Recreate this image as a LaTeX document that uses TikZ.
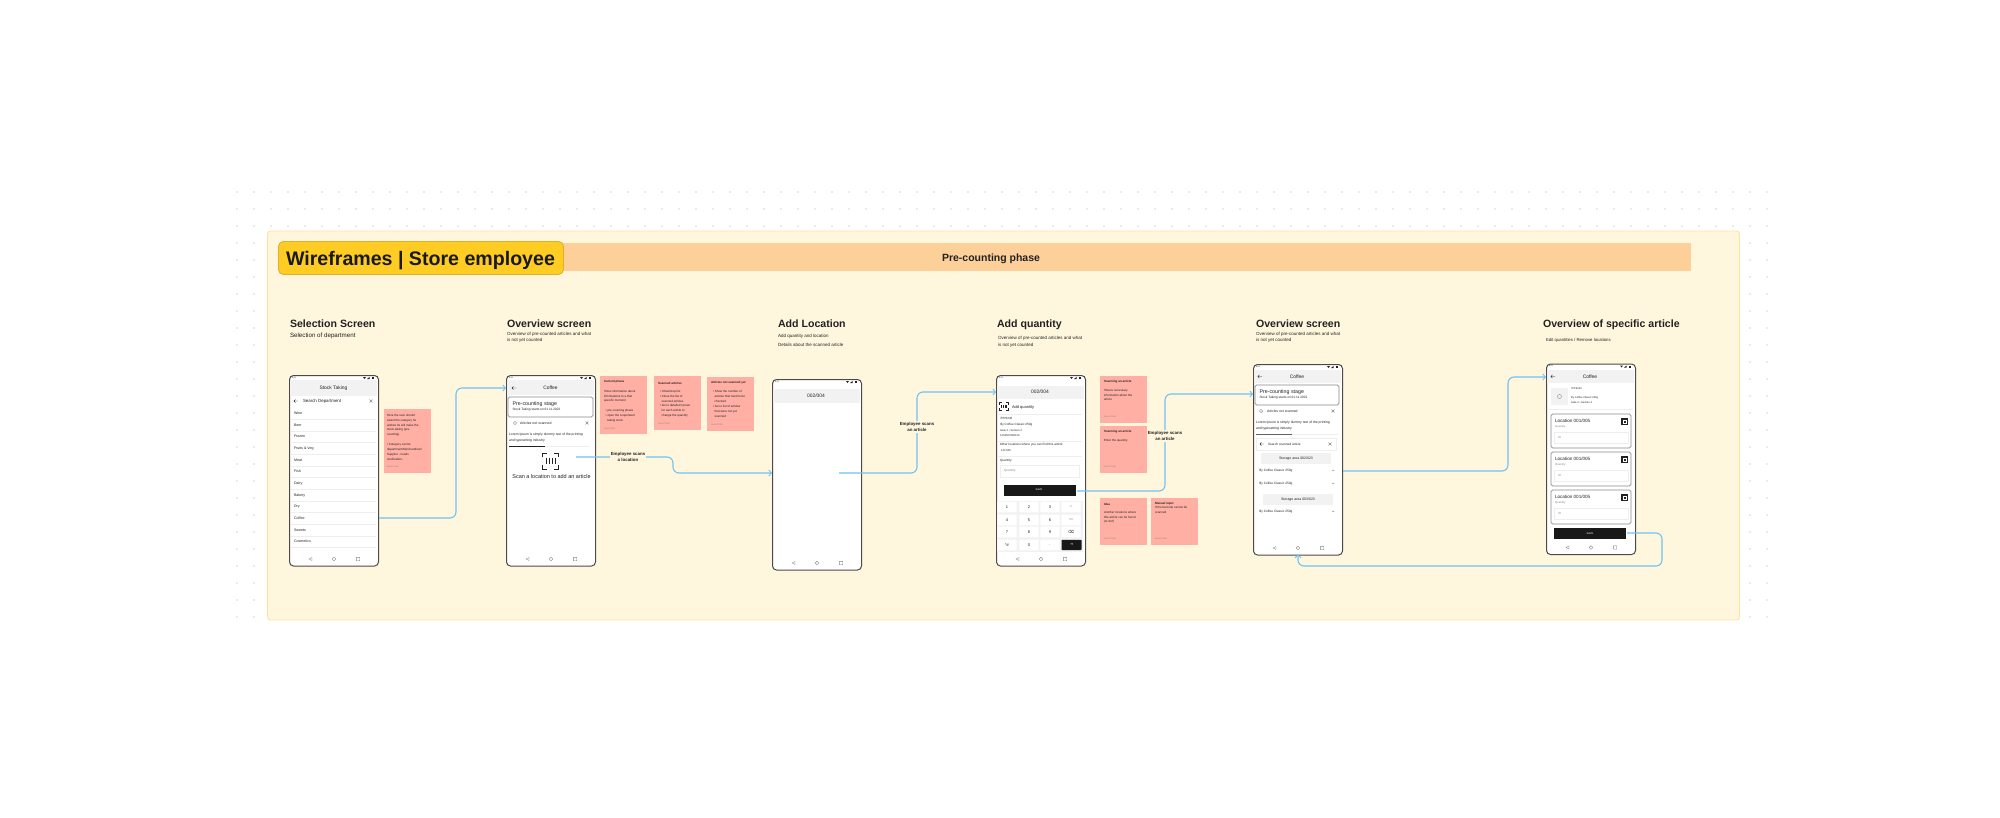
\documentclass[tikz,border=0pt]{standalone}
\usepackage{fontspec}
\setmainfont{Liberation Sans}
\newfontfamily\symfont{DejaVu Sans}
\usetikzlibrary{arrows.meta}
\definecolor{panelc}{HTML}{FFF6DE}
\definecolor{panelb}{HTML}{FFE39A}
\definecolor{bandc}{HTML}{FDD09A}
\definecolor{titlec}{HTML}{FFCC24}
\definecolor{titleb}{HTML}{DDB030}
\definecolor{stickyc}{HTML}{FFAFA3}
\definecolor{flowc}{HTML}{6FC3F2}
\definecolor{inkc}{HTML}{222222}
\definecolor{framec}{HTML}{4A4A4A}
\definecolor{barc}{HTML}{F2F2F2}
\definecolor{linec}{HTML}{EEEEEE}
\definecolor{softc}{HTML}{8A8A8A}
\newcounter{tn}
\tikzset{
  tx/.style={anchor=west,inner sep=0pt,outer sep=0pt,text=inkc},
  headtx/.style={anchor=base west,font=\bfseries},
  stickybox/.style={anchor=north west,fill=stickyc,draw=none,inner sep=0pt},
  phonebox/.style={anchor=north west,fill=white,draw=framec,line width=1pt,rounded corners=4pt,minimum width=89pt,minimum height=190.5pt,inner sep=0pt},
  flow/.style={draw=flowc,line width=1.1pt,rounded corners=6pt,-{Straight Barb[length=2.6pt,width=6pt,line width=.9pt]}},
  flowlabel/.style={fill=panelc,inner sep=1pt,align=center,text=inkc,font=\fontsize{4.4}{6}\selectfont\bfseries},
  navstroke/.style={draw=softc,line width=.4pt},
  divider/.style={draw=linec,line width=.3pt},
  cardbox/.style={draw=softc,line width=.7pt,rounded corners=1.6pt,fill=white},
  inputbox/.style={draw=linec,line width=.5pt,fill=white},
}
\newcommand\TT[4][]{\stepcounter{tn}\node[tx,#1] (t\arabic{tn}) at (#2) {\fontsize{#3}{#3}\selectfont #4};}
\newcommand\SL[3]{\stepcounter{tn}\node[tx,anchor=north west,align=left,font=\fontsize{#2}{4.85}\selectfont] (t\arabic{tn}) at (#1) {#3};}
\newcommand\sticky[5]{\node[stickybox,minimum width=#4 pt,minimum height=#5 pt] (#1) at (#2,#3) {};}
\newcommand\phone[3]{%
  \node[phonebox] (#1) at (#2,#3) {};
  \begin{scope}[shift={(#2,#3)}]
    \TT{3,2.8}{2}{9:41}
    \fill[inkc] (74,2) -- (77,2) -- (75.5,4) -- cycle;
    \fill[inkc] (78,4) -- (80.5,4) -- (80.5,2) -- cycle;
    \fill[inkc] (82.5,2) rectangle (84.5,4);
    \draw[navstroke] (23,182.5) -- (20,184) -- (23,185.5) -- cycle;
    \draw[navstroke] (45,184) circle (1.8pt);
    \draw[navstroke,rounded corners=.4pt] (67.3,182.3) rectangle (70.7,185.7);
  \end{scope}}
\newcommand\headerbar[3]{\fill[barc] (#1+.6,#2) rectangle (#1+88.4,#2+#3);}
\newcommand\backarrow[2]{%
  \draw[inkc,line width=.4pt] (#1-2.2,#2) -- (#1+2.2,#2) (#1-.6,#2-1.6) -- (#1-2.2,#2) -- (#1-.6,#2+1.6);}
\newcommand\closex[2]{%
  \draw[softc,line width=.4pt] (#1-1.4,#2-1.4) -- (#1+1.4,#2+1.4) (#1-1.4,#2+1.4) -- (#1+1.4,#2-1.4);}
\newcommand\scanicon[3]{%
  \draw[inkc,line width=.75pt]
    (#1-#3,#2-#3*.45) -- (#1-#3,#2-#3) -- (#1-#3*.45,#2-#3)
    (#1+#3*.45,#2-#3) -- (#1+#3,#2-#3) -- (#1+#3,#2-#3*.45)
    (#1-#3,#2+#3*.45) -- (#1-#3,#2+#3) -- (#1-#3*.45,#2+#3)
    (#1+#3*.45,#2+#3) -- (#1+#3,#2+#3) -- (#1+#3,#2+#3*.45);
  \draw[inkc,line width=.6pt]
    (#1-#3*.55,#2-#3*.4) -- (#1-#3*.55,#2+#3*.4)
    (#1-#3*.2,#2-#3*.4) -- (#1-#3*.2,#2+#3*.4)
    (#1+#3*.2,#2-#3*.4) -- (#1+#3*.2,#2+#3*.4)
    (#1+#3*.55,#2-#3*.4) -- (#1+#3*.55,#2+#3*.4);}
\newcommand\stagecard[4]{%
  \draw[cardbox] (#1,#2) rectangle (#3,#4);
  \TT{#1+4.5,#2+7}{5.3}{Pre-counting stage}
  \TT{#1+4.5,#2+13}{3.2}{Stock Taking starts on 01.11.2022}}
\newcommand\locationcard[2]{%
  \draw[cardbox] (1551,#1) rectangle (1631,#1+34);
  \TT{1555,#1+7}{4.6}{Location 001/005}
  \TT[text=softc]{1555,#1+13}{2.8}{Quantity}
  \draw[inputbox] (1554,#1+18) rectangle (1628,#1+29);
  \TT[text=softc]{1558,#1+23.5}{2.8}{#2}
  \fill[inkc] (1621,#1+4) rectangle (1628,#1+11);
  \draw[white,line width=.3pt] (1623,#1+6) rectangle (1626,#1+9);}
\newcommand\keycap[2]{\fill[white,rounded corners=.5pt] (#1-9.6,#2-5.4) rectangle (#1+9.6,#2+5.4);}

\begin{document}
\begin{tikzpicture}[x=1pt,y=-1pt]
\path[use as bounding box,fill=white] (0,0) rectangle (2000,817);
\foreach \i in {0,...,90}{\foreach \j in {0,...,25}{\fill[black!16] (237+17*\i,192+17*\j) circle (.8pt);}}
\node[anchor=north west,fill=panelc,draw=panelb,line width=.9pt,rounded corners=3pt,minimum width=1472pt,minimum height=389pt,inner sep=0pt] (panel) at (267,230.5) {};
\node[anchor=north west,fill=bandc,minimum width=1128pt,minimum height=28pt,inner sep=0pt] (band) at (563,243) {};
\node[inner sep=0pt,anchor=base,text=inkc,font=\fontsize{10.5}{11}\selectfont\bfseries] (phase) at (991,261.5) {Pre-counting phase};
\node[anchor=north west,fill=titlec,draw=titleb,line width=.9pt,rounded corners=5pt,minimum width=285pt,minimum height=33pt,inner sep=0pt] (title) at (278,241) {};
\node[inner sep=0pt,anchor=base,text=black!90,font=\fontsize{19.6}{22}\selectfont\bfseries] (titletext) at (420.5,265) {Wireframes | Store employee};

\TT[headtx]{290,327}{10.6}{Selection Screen}
\TT{290,336}{6.2}{Selection of department}
\TT[headtx]{507,327}{10.6}{Overview screen}
\TT{507,334}{4.5}{Overview of pre-counted articles and what}
\TT{507,340}{4.5}{is not yet counted}
\TT[headtx]{778,327}{10.6}{Add Location}
\TT{778,336}{4.5}{Add quantity and location}
\TT{778,345}{4.5}{Details about the scanned article}
\TT[headtx]{997,327}{10.6}{Add quantity}
\TT{998,338}{4.5}{Overview of pre-counted articles and what}
\TT{998,345}{4.5}{is not yet counted}
\TT[headtx]{1256,327}{10.6}{Overview screen}
\TT{1256,334}{4.5}{Overview of pre-counted articles and what}
\TT{1256,340}{4.5}{is not yet counted}
\TT[headtx]{1543,327}{10.6}{Overview of specific article}
\TT{1546,340}{4.3}{Edit quantities / Remove locations}

% phone 1
\phone{p1}{289}{375}
\headerbar{289}{380}{16}
\TT[anchor=center]{333.5,388}{4.9}{Stock Taking}
\backarrow{296}{401}
\TT{303,401}{4.4}{Search Department}
\closex{371}{401}
\foreach \yy/\lbl in {413.3/Wine,425/Beer,436.7/Frozen,448.7/Fruits \& Veg,460.3/Meat,471.7/Fish,483.7/Dairy,495.3/Bakery,506.7/Dry,518.3/Coffee,530/Sweets,541.7/Cosmetics}{
  \TT{294,\yy}{3.6}{\lbl}
  \draw[divider] (291,\yy+5.8) -- (376,\yy+5.8);
}
% phone 2
\phone{p2}{506}{375}
\headerbar{506}{380}{15}
\backarrow{514}{388}
\TT[anchor=center]{550.5,388}{4.9}{Coffee}
\stagecard{508}{397}{593}{417}
\draw[softc,line width=.4pt] (515,423) circle (1.7pt);
\TT{520,423}{3.5}{Articles not scanned}
\closex{587}{423}
\TT{509,435}{3.4}{Lorem Ipsum is simply dummy text of the printing}
\TT{509,441}{3.4}{and typesetting industry}
\draw[linec,line width=.7pt] (545,446.5) -- (590,446.5);
\draw[inkc,line width=.7pt] (509,446.5) -- (545,446.5);
\scanicon{550.5}{461}{8}
\TT[anchor=center]{551.5,477}{5.5}{Scan a location to add an article}
% phone 3
\phone{p3}{772}{379}
\headerbar{772}{389}{14}
\TT[anchor=center]{816,395.5}{4.9}{002/004}
% phone 4
\phone{p4}{996}{375}
\headerbar{996}{386}{13}
\TT[anchor=center]{1040,392}{4.9}{002/004}
\scanicon{1004}{406.5}{4.2}
\TT{1012,407}{4}{Add quantity}
\draw[divider] (998,414) -- (1082,414);
\TT{1000,418}{3}{7PP6240}
\TT{1000,425}{3.1}{Illy Coffee Classic 250g}
\TT{1000,430.5}{2.7}{Aisle 2 • Section 4}
\TT{1000,436}{2.7}{1234567890123}
\draw[divider] (998,441) -- (1082,441);
\TT{1000,445}{3.1}{Other locations where you can find this article}
\TT{1001,451}{2.7}{120 505}
\draw[divider] (998,456) -- (1082,456);
\TT{1000,461}{3.1}{Quantity}
\draw[inputbox] (1000,465.5) rectangle (1079,477);
\TT[text=softc]{1004,471}{3.1}{Quantity}
\fill[inkc!70!black] (1004,485) rectangle (1076,496);
\TT[anchor=center,text=white]{1039,490}{2.6}{SAVE}
\fill[barc] (997,501) rectangle (1083,552);
\foreach \cx/\cy/\lbl in {1007/507/1,1029/507/2,1050/507/3,1071/507/–,1007/520/4,1029/520/5,1050/520/6,1071/520/—,1007/532/7,1029/532/8,1050/532/9,1071/532/{\symfont ⌫},1007/545/*\#,1029/545/0,1050/545/.}{
  \keycap{\cx}{\cy}
  \TT[anchor=center]{\cx,\cy}{4}{\lbl}
}
\fill[inkc!70!black,rounded corners=.6pt] (1061.5,539.8) rectangle (1081.5,550);
\TT[anchor=center,text=white]{1071.5,545}{3.5}{\symfont ⇥}
% phone 5
\phone{p5}{1253}{364}
\headerbar{1253}{370}{13}
\backarrow{1260}{376.5}
\TT[anchor=center]{1297,376.5}{4.9}{Coffee}
\stagecard{1255}{385}{1339}{405}
\draw[softc,line width=.4pt] (1261,411) circle (1.7pt);
\TT{1267,411}{3.4}{Articles not scanned}
\closex{1333}{411}
\TT{1256,423}{3.4}{Lorem Ipsum is simply dummy text of the printing}
\TT{1256,429}{3.4}{and typesetting industry}
\draw[linec,line width=.7pt] (1292,434.8) -- (1338,434.8);
\draw[softc!70!black,line width=.7pt] (1256,434.8) -- (1292,434.8);
\draw[inputbox] (1256,438.5) rectangle (1336,450);
\backarrow{1262}{444}
\TT{1268,444}{3.2}{Search scanned article}
\closex{1330}{444}
\fill[barc] (1261,453) rectangle (1331,464);
\TT[anchor=center]{1296,458.5}{3.5}{Storage area 002/023}
\TT{1259,471}{3.2}{Illy Coffee Classic 250g}
\TT{1332,470.5}{2.4}{•••}
\TT{1259,484}{3.2}{Illy Coffee Classic 250g}
\TT{1332,483.5}{2.4}{•••}
\fill[barc] (1263,494) rectangle (1333,504.5);
\TT[anchor=center]{1298,499.3}{3.5}{Storage area 003/023}
\TT{1259,512}{3.2}{Illy Coffee Classic 250g}
\TT{1332,511.5}{2.4}{•••}
% phone 6
\phone{p6}{1546}{363.5}
\headerbar{1546}{370}{13}
\backarrow{1553}{376.5}
\TT[anchor=center]{1590,376.5}{4.9}{Coffee}
\fill[barc] (1551,388) rectangle (1568,405);
\draw[softc,line width=.4pt] (1559.5,396.5) circle (2pt);
\TT{1571,389}{2.6}{7PP6240}
\TT{1571,398}{2.6}{Illy Coffee Classic 250g}
\TT{1571,403}{2.6}{Aisle 2 • Section 4}
\draw[divider] (1549,409.5) -- (1633,409.5);
\locationcard{414}{25}
\locationcard{452}{30}
\locationcard{490}{36}
\fill[inkc!70!black] (1554,528) rectangle (1626,539);
\TT[anchor=center,text=white]{1590,533.5}{2.6}{SAVE}

% sticky notes
\sticky{s1}{384}{409}{47}{64}
\SL{387,414.2}{3}{Here the user should\\select the category he\\wishes he will make the\\stock-taking (pre-\\counting).\\[4.85pt]• Category can be\\department/Merchandiser/\\Supplier - needs\\clarification-}
\TT[text=softc]{387,467}{2.2}{Jesse Tuan}
\sticky{s2}{600}{376}{47}{58}
\TT[font=\bfseries]{604,382}{3}{Current phase}
\SL{604,390}{3}{Show information about\\informations to a that\\specific moment\\[4.85pt]\ \ • pre-counting phase\\\ \ • open the scope/start\\\ \ \ \ taking stock}
\TT[text=softc]{604,429}{2.2}{Jesse Tyler}
\sticky{s3}{654}{376}{47}{54}
\TT[font=\bfseries]{658,383}{3}{Scanned articles}
\SL{660,390.2}{3}{• Show/stop list\\• Close the list of\\\ \ scanned articles\\• Go to detailed screen\\\ \ for each article to\\\ \ change the quantity}
\TT[text=softc]{658,424}{2.2}{Jesse Tuttle}
\sticky{s4}{707}{377}{47}{54}
\TT[font=\bfseries]{711,383}{3}{Articles not scanned yet}
\SL{713,390.8}{3}{• Show the number of\\\ \ articles that need to be\\\ \ checked\\• Go to list of articles\\\ \ that were not yet\\\ \ scanned}
\TT[text=softc]{711,425}{2.2}{Jesse Tuttle}
\sticky{s5}{1100}{376}{47}{47}
\TT[font=\bfseries]{1104,382}{3}{Scanning an article}
\SL{1104,389}{3}{Shows necessary\\information about the\\article}
\TT[text=softc]{1104,417}{2.2}{Jesse Tuttle}
\sticky{s6}{1100}{426}{47}{47}
\TT[font=\bfseries]{1104,432}{3}{Scanning an article}
\SL{1104,439}{3}{Enter the quantity}
\TT[text=softc]{1104,467}{2.2}{Jesse Tuttle}
\sticky{s7}{1100}{498}{47}{47}
\TT[font=\bfseries]{1104,504}{3}{Idea}
\SL{1104,511}{3}{Another locations where\\this article can be found\\(to do?)}
\TT[text=softc]{1104,539}{2.2}{Jesse Tuttle}
\sticky{s8}{1151}{498}{47}{47}
\TT[font=\bfseries]{1155,504}{3}{Manual input}
\SL{1155,506.3}{3}{If the barcode cannot be\\scanned}
\TT[text=softc]{1155,539}{2.2}{Jesse Tuttle}

% connectors
\coordinate (p1out) at (p1.east|-0,518);
\coordinate (p2in) at (p2.west|-0,388);
\coordinate (p2out) at (576,457);
\coordinate (p3in) at (p3.west|-0,473);
\coordinate (p3out) at (839,473);
\coordinate (p4in) at (p4.west|-0,392);
\coordinate (p4out) at (1077,491);
\coordinate (p5in) at (p5.west|-0,394);
\coordinate (p5out) at (p5.east|-0,471);
\coordinate (p6in) at (p6.west|-0,377);
\coordinate (p6out) at (1627,533);
\coordinate (p5back) at (1298,554.5);
\draw[flow] (p1out) -- (456,518) -- (456,388) -- (p2in);
\draw[flow] (p2out) -- (673,457) -- (673,473) -- (p3in);
\draw[flow] (p3out) -- (917,473) -- (917,392) -- (p4in);
\draw[flow] (p4out) -- (1165,491) -- (1165,394) -- (p5in);
\draw[flow] (p5out) -- (1508,471) -- (1508,377) -- (p6in);
\draw[flow] (p6out) -- (1662,533) -- (1662,566) -- (1298,566) -- (p5back);
\node[flowlabel] (l1) at (628,457) {Employee scans\\a location};
\node[flowlabel] (l2) at (917,427) {Employee scans\\an article};
\node[flowlabel] (l3) at (1165,436) {Employee scans\\an article};
\end{tikzpicture}
\end{document}
